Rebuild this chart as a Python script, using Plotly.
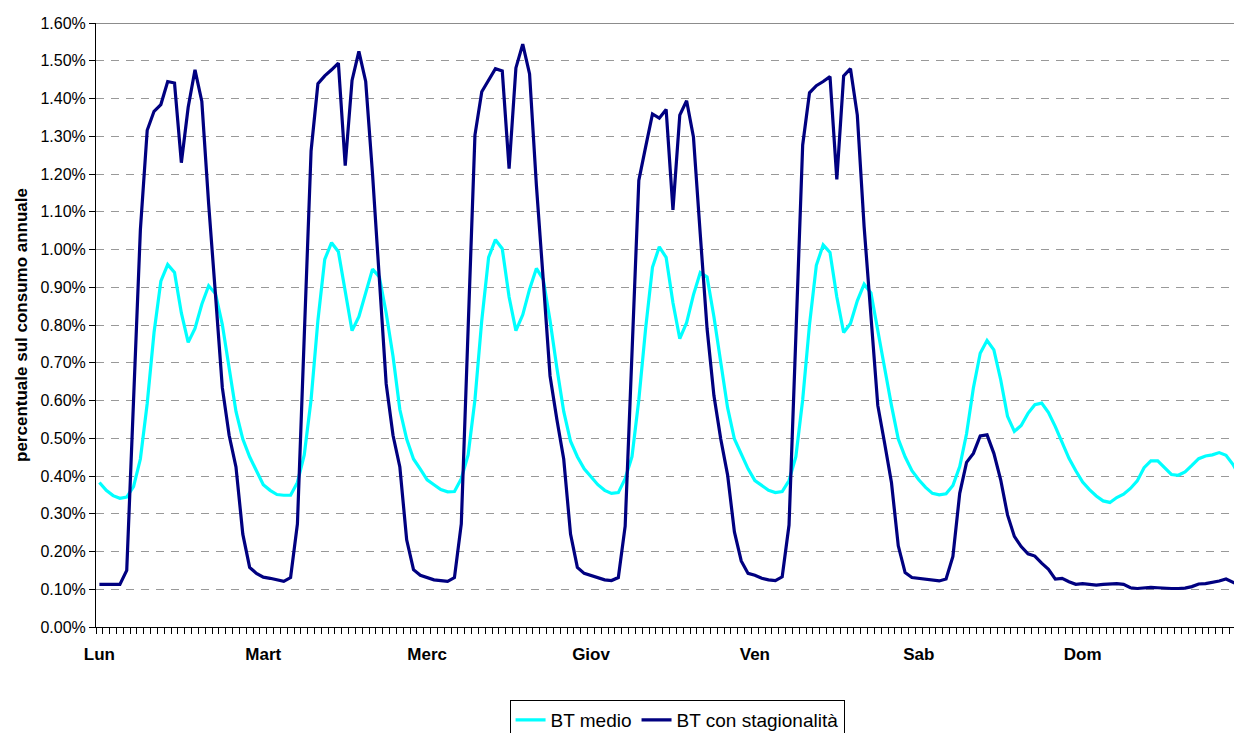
import plotly.graph_objects as go

# ---- data (percent of annual consumption, hourly over one week) ----
day_labels = ["Lun", "Mart", "Merc", "Giov", "Ven", "Sab", "Dom"]
hours_per_day = 24

bt_medio = [
    0.383, 0.362, 0.348, 0.341, 0.344, 0.372, 0.445, 0.592, 0.780, 0.916, 0.960, 0.939,
    0.832, 0.754, 0.791, 0.855, 0.904, 0.883, 0.801, 0.686, 0.571, 0.498, 0.451, 0.414,
    0.377, 0.362, 0.351, 0.349, 0.349, 0.383, 0.456, 0.602, 0.812, 0.974, 1.018, 0.994,
    0.885, 0.785, 0.822, 0.885, 0.948, 0.927, 0.832, 0.717, 0.576, 0.498, 0.445, 0.418,
    0.390, 0.377, 0.364, 0.358, 0.359, 0.393, 0.456, 0.602, 0.812, 0.979, 1.026, 1.002,
    0.874, 0.785, 0.827, 0.895, 0.950, 0.921, 0.812, 0.686, 0.571, 0.492, 0.451, 0.419,
    0.397, 0.377, 0.362, 0.354, 0.356, 0.393, 0.451, 0.602, 0.791, 0.953, 1.007, 0.979,
    0.859, 0.764, 0.806, 0.880, 0.939, 0.927, 0.822, 0.696, 0.581, 0.498, 0.456, 0.419,
    0.388, 0.374, 0.362, 0.356, 0.359, 0.388, 0.451, 0.602, 0.801, 0.958, 1.012, 0.992,
    0.874, 0.780, 0.804, 0.864, 0.908, 0.885, 0.791, 0.686, 0.587, 0.498, 0.451, 0.414,
    0.390, 0.370, 0.354, 0.350, 0.353, 0.375, 0.425, 0.512, 0.633, 0.725, 0.759, 0.734,
    0.655, 0.558, 0.518, 0.534, 0.566, 0.589, 0.593, 0.568, 0.531, 0.487, 0.447, 0.414,
    0.384, 0.364, 0.347, 0.334, 0.330, 0.343, 0.352, 0.367, 0.387, 0.422, 0.440, 0.440,
    0.421, 0.404, 0.402, 0.411, 0.428, 0.446, 0.453, 0.456, 0.462, 0.455, 0.431, 0.400,
]

bt_stagionalita = [
    0.113, 0.113, 0.113, 0.113, 0.150, 0.600, 1.052, 1.316, 1.366, 1.384, 1.445, 1.441,
    1.230, 1.377, 1.476, 1.392, 1.120, 0.880, 0.634, 0.508, 0.424, 0.246, 0.158, 0.142,
    0.132, 0.129, 0.125, 0.121, 0.131, 0.273, 0.770, 1.261, 1.439, 1.460, 1.476, 1.494,
    1.222, 1.448, 1.525, 1.445, 1.200, 0.920, 0.644, 0.508, 0.424, 0.231, 0.152, 0.137,
    0.130, 0.125, 0.123, 0.121, 0.131, 0.273, 0.790, 1.303, 1.418, 1.450, 1.479, 1.473,
    1.214, 1.481, 1.544, 1.465, 1.170, 0.920, 0.665, 0.550, 0.445, 0.246, 0.158, 0.142,
    0.136, 0.129, 0.125, 0.123, 0.131, 0.267, 0.730, 1.183, 1.272, 1.359, 1.348, 1.371,
    1.105, 1.356, 1.394, 1.298, 1.040, 0.790, 0.613, 0.498, 0.403, 0.252, 0.175, 0.142,
    0.137, 0.129, 0.125, 0.123, 0.133, 0.270, 0.770, 1.277, 1.415, 1.434, 1.445, 1.458,
    1.186, 1.460, 1.479, 1.356, 1.060, 0.810, 0.587, 0.487, 0.383, 0.215, 0.144, 0.131,
    0.129, 0.127, 0.125, 0.122, 0.127, 0.187, 0.354, 0.436, 0.460, 0.506, 0.509, 0.460,
    0.390, 0.297, 0.240, 0.213, 0.194, 0.188, 0.169, 0.153, 0.127, 0.129, 0.120, 0.113,
    0.115, 0.114, 0.111, 0.113, 0.115, 0.115, 0.113, 0.104, 0.102, 0.104, 0.105, 0.104,
    0.102, 0.102, 0.102, 0.103, 0.107, 0.114, 0.115, 0.118, 0.122, 0.127, 0.118, 0.110,
]

hours = list(range(len(bt_medio)))
day_ticks = [i * hours_per_day for i in range(len(day_labels))]

FONT = "Liberation Sans, Arial, sans-serif"

fig = go.Figure()
fig.add_trace(go.Scatter(
    x=hours, y=bt_medio, mode="lines", name="BT medio",
    line=dict(color="#00FFFF", width=3.2),
))
fig.add_trace(go.Scatter(
    x=hours, y=bt_stagionalita, mode="lines", name="BT con stagionalità",
    line=dict(color="#000080", width=3.2),
))

fig.update_layout(
    width=1234, height=733,
    margin=dict(l=96, r=0, t=23, b=106, autoexpand=False),
    paper_bgcolor="white", plot_bgcolor="white",
    font=dict(family=FONT, color="black"),
    showlegend=True,
    legend=dict(
        orientation="h", x=0.5106, xanchor="center",
        yref="container", y=(733 - 700) / 733, yanchor="top",
        bordercolor="black", borderwidth=1, bgcolor="white",
        font=dict(family=FONT, size=19, color="black"),
        itemwidth=30, tracegroupgap=0,
    ),
    xaxis=dict(
        range=[-0.5, 166.17], automargin=False,
        tickmode="array", tickvals=day_ticks, ticktext=day_labels,
        ticks="", showgrid=False, zeroline=False,
        showline=True, linecolor="black", linewidth=1,
        tickfont=dict(family=FONT, size=17, weight="bold", color="black"),
        ticklabelstandoff=12,
        minor=dict(ticks="outside", ticklen=6, tickcolor="black", tickwidth=1,
                   tick0=-0.5, dtick=1, showgrid=False),
    ),
    yaxis=dict(
        range=[0, 1.6], tickmode="linear", tick0=0, dtick=0.1, automargin=False,
        tickformat=".2f", ticksuffix="%",
        showgrid=True, gridcolor="#999999", gridwidth=1, griddash="8px,7px",
        zeroline=False, showline=True, linecolor="black", linewidth=1,
        ticks="outside", ticklen=6, tickcolor="black",
        tickfont=dict(family=FONT, size=16, color="black"),
        title=dict(text="percentuale sul consumo annuale",
                   font=dict(family=FONT, size=17, weight="bold", color="black"),
                   standoff=8),
    ),
    shapes=[dict(type="line", xref="paper", yref="y", x0=0, x1=1, y0=1.6, y1=1.6,
                 line=dict(color="#8c8c8c", width=2))],
)

fig.write_html("out.html")
